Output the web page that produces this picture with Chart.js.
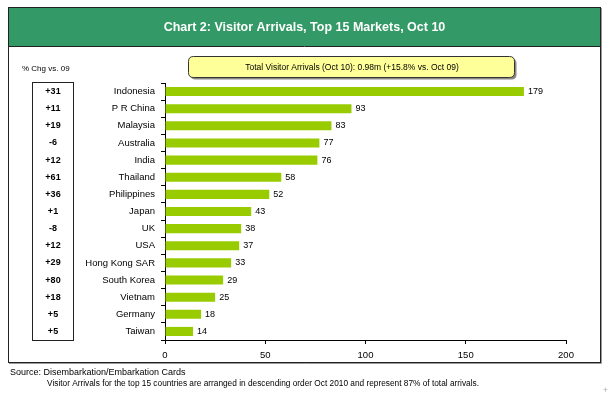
<!DOCTYPE html>
<html>
<head>
<meta charset="utf-8">
<script src="https://cdn.jsdelivr.net/npm/chart.js@4"></script>
<style>
  html, body { margin: 0; padding: 0; background: #fff; }
  canvas { display: block; }
</style>
</head>
<body>
<canvas id="chart" width="609" height="397"></canvas>
<script>
// Chart 2: Visitor Arrivals, Top 15 Markets, Oct 10 ('000)

const markets = ['Indonesia', 'P R China', 'Malaysia', 'Australia', 'India', 'Thailand', 'Philippines',
  'Japan', 'UK', 'USA', 'Hong Kong SAR', 'South Korea', 'Vietnam', 'Germany', 'Taiwan'];
const arrivals = [179, 93, 83, 77, 76, 58, 52, 43, 38, 37, 33, 29, 25, 18, 14];
const pctChange = ['+31', '+11', '+19', '-6', '+12', '+61', '+36', '+1', '-8', '+12', '+29', '+80', '+18', '+5', '+5'];
const xTicks = [0, 50, 100, 150, 200];

const FONT = '"Liberation Sans", Arial, sans-serif';
const title = 'Chart 2: Visitor Arrivals, Top 15 Markets, Oct 10';
const totalNote = 'Total Visitor Arrivals (Oct 10): 0.98m (+15.8% vs. Oct 09)';
const source = 'Source: Disembarkation/Embarkation Cards';
const footnote = 'Visitor Arrivals for the top 15 countries are arranged in descending order Oct 2010 and represent 87% of total arrivals.';

function roundRect(ctx, x, y, w, h, r) {
  ctx.beginPath();
  ctx.moveTo(x + r, y);
  ctx.lineTo(x + w - r, y);
  ctx.quadraticCurveTo(x + w, y, x + w, y + r);
  ctx.lineTo(x + w, y + h - r);
  ctx.quadraticCurveTo(x + w, y + h, x + w - r, y + h);
  ctx.lineTo(x + r, y + h);
  ctx.quadraticCurveTo(x, y + h, x, y + h - r);
  ctx.lineTo(x, y + r);
  ctx.quadraticCurveTo(x, y, x + r, y);
  ctx.closePath();
}

// frame, header, note box, % change column, footer
const decor = {
  id: 'decor',
  beforeDraw(chart) {
    const ctx = chart.ctx;
    ctx.save();
    ctx.fillStyle = '#fff';
    ctx.fillRect(0, 0, chart.width, chart.height);

    // outer frame + shadow
    ctx.strokeStyle = '#999';
    ctx.lineWidth = 1;
    ctx.beginPath();
    ctx.moveTo(601.5, 8); ctx.lineTo(601.5, 363.5); ctx.lineTo(9, 363.5);
    ctx.stroke();
    ctx.strokeStyle = '#222';
    ctx.strokeRect(8.5, 7.5, 592, 355);

    // header
    ctx.fillStyle = '#339966';
    ctx.fillRect(9, 8, 591, 38);
    ctx.strokeStyle = '#222';
    ctx.beginPath();
    ctx.moveTo(9, 46.5); ctx.lineTo(600, 46.5);
    ctx.stroke();
    ctx.fillStyle = '#fff';
    ctx.font = 'bold 12.5px ' + FONT;
    ctx.textAlign = 'center';
    ctx.textBaseline = 'middle';
    ctx.fillText(title, 304.5, 28);

    // total note box
    ctx.fillStyle = '#888';
    roundRect(ctx, 190.5, 58.5, 326, 21, 5);
    ctx.fill();
    ctx.fillStyle = '#FFFF99';
    roundRect(ctx, 188.5, 56.5, 326, 21, 5);
    ctx.fill();
    ctx.strokeStyle = '#333';
    ctx.stroke();
    ctx.fillStyle = '#000';
    ctx.font = '8.5px ' + FONT;
    ctx.fillText(totalNote, 352, 67.5);

    // % change header
    ctx.textAlign = 'left';
    ctx.font = '8px ' + FONT;
    ctx.fillText('% Chg vs. 09', 22, 69);

    // % change box
    ctx.strokeStyle = '#222';
    ctx.strokeRect(32.5, 82.5, 41, 258);

    // footer
    ctx.font = '9px ' + FONT;
    ctx.fillText(source, 10, 373);
    ctx.font = '8.3px ' + FONT;
    ctx.fillText(footnote, 47, 384);
    ctx.fillStyle = '#aaa';
    ctx.fillText('+', 603, 391);
    ctx.restore();
  },
  afterDatasetsDraw(chart) {
    const ctx = chart.ctx;
    const meta = chart.getDatasetMeta(0);
    ctx.save();
    ctx.fillStyle = '#000';
    ctx.textBaseline = 'middle';
    meta.data.forEach((bar, i) => {
      ctx.font = '9px ' + FONT;
      ctx.textAlign = 'left';
      ctx.fillText(String(arrivals[i]), bar.x + 4, bar.y);
      ctx.font = 'bold 9px ' + FONT;
      ctx.textAlign = 'center';
      ctx.fillText(pctChange[i], 53, bar.y);
    });
    ctx.restore();
  }
};

new Chart(document.getElementById('chart'), {
  type: 'bar',
  data: {
    labels: markets,
    datasets: [{
      label: 'Visitor Arrivals',
      data: arrivals,
      backgroundColor: '#99CC00',
      borderWidth: 0,
      barPercentage: 0.53,
      categoryPercentage: 1,
    }],
  },
  options: {
    indexAxis: 'y',
    responsive: false,
    animation: false,
    devicePixelRatio: 1,
    layout: { padding: { top: 83, right: 43, left: 0, bottom: 0 } },
    plugins: {
      legend: { display: false },
      tooltip: { enabled: false },
    },
    scales: {
      x: {
        min: 0,
        max: 200,
        afterBuildTicks: s => { s.ticks = xTicks.map(v => ({ value: v })); },
        afterFit: s => { s.height = 57; },
        ticks: { color: '#000', padding: 6, font: { family: FONT, size: 9.5 } },
        grid: { drawOnChartArea: false, tickLength: 4, color: '#000' },
        border: { color: '#000' },
      },
      y: {
        afterFit: s => { s.width = 165; },
        ticks: { color: '#000', padding: 6, font: { family: FONT, size: 9.5 } },
        grid: { drawOnChartArea: false, tickLength: 4, color: '#000', offset: true },
        border: { color: '#000' },
      },
    },
  },
  plugins: [decor],
});
</script>
</body>
</html>
